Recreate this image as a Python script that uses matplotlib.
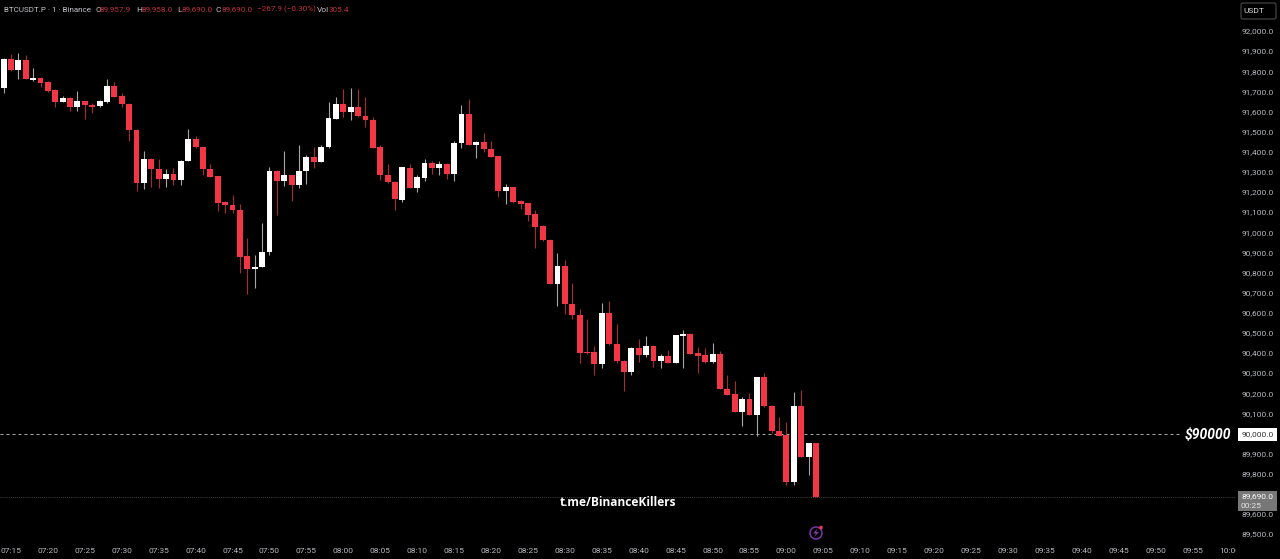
import matplotlib
matplotlib.use('Agg')
from matplotlib import pyplot as plt
from matplotlib.patches import Circle, FancyBboxPatch, Polygon, Rectangle
from matplotlib.transforms import Affine2D, Bbox, IdentityTransform
import numpy as np

plt.rcParams['font.family'] = ['Roboto', 'DejaVu Sans']

# one minute candles, starting 07:14
opens = [91722, 91868, 91811, 91861, 91762, 91773, 91750, 91710, 91654, 91674,
         91629, 91657, 91637, 91631, 91654, 91732, 91682, 91642, 91513, 91248,
         91367, 91321, 91271, 91294, 91265, 91359, 91467, 91427, 91321, 91283,
         91155, 91140, 91117, 90887, 90821, 90831, 90907, 91311, 91260, 91288,
         91240, 91309, 91381, 91354, 91427, 91566, 91642, 91602, 91629, 91583,
         91563, 91429, 91291, 91255, 91167, 91324, 91227, 91276, 91347, 91323,
         91344, 91294, 91447, 91591, 91437, 91452, 91419, 91384, 91212, 91230,
         91159, 91149, 91096, 91036, 90966, 90746, 90837, 90650, 90595, 90408,
         90408, 90350, 90605, 90450, 90367, 90311, 90428, 90395, 90441, 90364,
         90390, 90357, 90491, 90499, 90403, 90393, 90358, 90402, 90228, 90200,
         90113, 90176, 90099, 90284, 90143, 90019, 89996, 89764, 90142, 89888,
         89958]
highs = [91869, 91891, 91894, 91887, 91821, 91778, 91758, 91715, 91682, 91677,
         91705, 91659, 91646, 91662, 91768, 91752, 91699, 91646, 91516, 91410,
         91374, 91367, 91318, 91324, 91364, 91516, 91483, 91430, 91344, 91285,
         91159, 91188, 91145, 90975, 90890, 91053, 91328, 91314, 91407, 91291,
         91437, 91391, 91430, 91440, 91652, 91679, 91718, 91722, 91718, 91675,
         91576, 91440, 91344, 91258, 91331, 91344, 91291, 91371, 91361, 91357,
         91347, 91457, 91636, 91669, 91457, 91496, 91457, 91384, 91245, 91231,
         91165, 91152, 91116, 91039, 90970, 90904, 90867, 90751, 90625, 90576,
         90440, 90655, 90665, 90549, 90370, 90433, 90473, 90489, 90443, 90400,
         90420, 90496, 90519, 90503, 90436, 90430, 90456, 90417, 90297, 90267,
         90185, 90208, 90285, 90304, 90145, 90085, 90062, 90211, 90221, 89959,
         89958]
lows = [91699, 91805, 91765, 91765, 91758, 91725, 91704, 91626, 91652, 91606,
        91606, 91566, 91596, 91629, 91649, 91675, 91626, 91457, 91208, 91222,
        91232, 91225, 91232, 91238, 91241, 91357, 91424, 91288, 91278, 91109,
        91102, 91099, 90801, 90698, 90728, 90831, 90894, 91091, 91235, 91162,
        91225, 91245, 91324, 91354, 91424, 91566, 91576, 91563, 91579, 91526,
        91424, 91265, 91251, 91116, 91155, 91223, 91205, 91258, 91294, 91288,
        91271, 91261, 91424, 91437, 91374, 91404, 91377, 91182, 91145, 91152,
        91122, 91063, 90927, 90963, 90746, 90639, 90599, 90572, 90354, 90400,
        90297, 90330, 90446, 90354, 90218, 90294, 90360, 90387, 90334, 90330,
        90354, 90354, 90330, 90400, 90304, 90357, 90357, 90224, 90195, 90112,
        90042, 90097, 89993, 90138, 90006, 89993, 89751, 89751, 89886, 89797,
        89690]
closes = [91868, 91811, 91861, 91765, 91773, 91748, 91707, 91652, 91674, 91629,
          91659, 91637, 91629, 91659, 91732, 91679, 91641, 91513, 91248, 91367,
          91321, 91271, 91294, 91265, 91361, 91467, 91427, 91319, 91280, 91152,
          91139, 91116, 90884, 90821, 90832, 90909, 91311, 91261, 91288, 91240,
          91311, 91381, 91354, 91430, 91571, 91642, 91602, 91629, 91581, 91561,
          91425, 91289, 91253, 91169, 91328, 91227, 91280, 91347, 91323, 91344,
          91294, 91450, 91591, 91437, 91452, 91417, 91381, 91212, 91230, 91155,
          91145, 91092, 91029, 90966, 90749, 90837, 90648, 90592, 90405, 90405,
          90350, 90605, 90450, 90364, 90311, 90428, 90397, 90441, 90364, 90390,
          90355, 90493, 90499, 90402, 90390, 90358, 90402, 90226, 90196, 90113,
          90176, 90099, 90284, 90142, 90017, 89993, 89764, 90142, 89888, 89959,
          89690]

time_labels = ['07:15', '07:20', '07:25', '07:30', '07:35', '07:40', '07:45', '07:50', '07:55',
               '08:00', '08:05', '08:10', '08:15', '08:20', '08:25', '08:30', '08:35', '08:40',
               '08:45', '08:50', '08:55', '09:00', '09:05', '09:10', '09:15', '09:20', '09:25',
               '09:30', '09:35', '09:40', '09:45', '09:50', '09:55', '10:00']
price_ticks = [92000, 91900, 91800, 91700, 91600, 91500, 91400, 91300, 91200, 91100,
               91000, 90900, 90800, 90700, 90600, 90500, 90400, 90300, 90200, 90100,
               90000, 89900, 89800, 89700, 89600, 89500]
level_price = 90000
last_price = 89690

W, H = 1280, 559
RED = '#f23645'
GREY = '#b8bac0'
HEAD_RED = '#c0303e'

opens, highs, lows, closes = map(np.array, (opens, highs, lows, closes))
idx = np.arange(len(opens))
up = closes >= opens

fig = plt.figure(figsize=(W / 100, H / 100), dpi=100, facecolor='black')
# plot area runs to x=1236 and y=545 in pixels
ax = fig.add_axes([0, 14 / H, 1236 / W, 545 / H], facecolor='black')
ax.set_xlim(-3.6 / 7.385, (1236 - 3.6) / 7.385)
ax.set_ylim(92000 - (545 - 32) * 4.969, 92000 + 32 * 4.969)

# Candles
ax.axhline(level_price, color='#a8a8a8', lw=0.72, dashes=(3, 3), zorder=1)
ax.axhline(last_price, color='#5a5a5a', lw=0.6, ls=(0, (1, 1.5)), zorder=1)
ax.vlines(idx[up], lows[up], highs[up], color='#a6a6a6', lw=0.8, zorder=2)
ax.vlines(idx[~up], lows[~up], highs[~up], color='#a82a36', lw=0.8, zorder=2)
ax.bar(idx[up], (closes - opens)[up], bottom=opens[up], width=0.8, color='white', lw=0, zorder=3)
ax.bar(idx[~up], (closes - opens)[~up], bottom=opens[~up], width=0.8, color=RED, lw=0, zorder=3)

for s in ax.spines.values():
    s.set_visible(False)
ax.set_xticks(np.arange(1, 167, 5))
ax.set_xticklabels(time_labels)
ax.yaxis.tick_right()
ax.set_yticks(price_ticks)
# the tags on the axis cover 90,000.0 and 89,700.0
ax.set_yticklabels(['' if p in (90000, 89700) else f'{p:,.1f}' for p in price_ticks])
ax.tick_params(axis='x', length=0, pad=2, labelsize=6, labelcolor=GREY)
ax.tick_params(axis='y', length=0, pad=4, labelsize=6, labelcolor=GREY)
clip = Bbox([[0, 0], [1236, H]])
for lab in ax.get_xticklabels():
    lab.set_clip_on(True)
    lab.set_clip_box(clip)
for lab in ax.get_yticklabels():
    lab.set_transform(lab.get_transform() + Affine2D().translate(0, 1))


def px_text(x, y, s, **kw):
    kw.setdefault('fontsize', 6)
    kw.setdefault('va', 'center')
    return fig.text(x / W, 1 - y / H, s, **kw)


# Header line
px_text(4, 9.5, 'BTCUSDT.P · 1 · Binance', color='#c4c6cc', fontsize=5.8)
for x, s in [(95, 'O'), (136, 'H'), (177, 'L'), (216, 'C'), (317, 'Vol')]:
    px_text(x, 9.5, s, color='#c4c6cc')
for x, s in [(100, '89,957.9'), (141, '89,958.0'), (181, '89,690.0'), (221, '89,690.0'),
             (257, '−267.9 (−0.30%)'), (329, '305.4')]:
    px_text(x, 9.5, s, color=HEAD_RED, fontsize=5.9)

# Annotations
px_text(1207.5, 435, '$90000', color='white', fontsize=10, fontweight='bold', fontstyle='italic', ha='center',
        bbox=dict(fc='black', ec='none', pad=3))
px_text(618.5, 503, 't.me/BinanceKillers', color='white', fontsize=8.6, fontweight='bold', ha='center',
        family=['Open Sans', 'DejaVu Sans'])

# Price tags on the right axis
idt = IdentityTransform()
fig.add_artist(Rectangle((1238, H - 441), 39, 13, color='white', lw=0, transform=idt, zorder=5))
px_text(1258, 434.5, '90,000.0', color='#333333', ha='center', zorder=6)
fig.add_artist(Rectangle((1238, H - 511), 39, 20, color='#777777', lw=0, transform=idt, zorder=5))
px_text(1258, 496, '89,690.0', color='white', ha='center', zorder=6)
px_text(1251, 505.5, '00:25', color='#e6e6e6', ha='center', zorder=6)

# USDT button
fig.add_artist(FancyBboxPatch((1241, H - 19), 35, 16, boxstyle='round,pad=0,rounding_size=2',
                              fc='black', ec='#4a4a4a', lw=0.8, transform=idt, zorder=5))
px_text(1254, 11, 'USDT', color='#d8d8d8', ha='center', zorder=6)

# Lightning badge under the last candle
fig.add_artist(Circle((816, H - 533), 6, fc='none', ec='#7b35a8', lw=1.1, transform=idt, zorder=5))
fig.add_artist(Polygon([(817.5, H - 528.5), (813, H - 533.5), (815.8, H - 533.5), (814.5, H - 537),
                        (819, H - 532), (816.2, H - 532)], color='#7b35a8', lw=0, transform=idt, zorder=5))
fig.add_artist(Circle((821, H - 527.5), 1.8, fc='#f23645', ec='none', transform=idt, zorder=6))

fig.savefig('out.png', dpi=100, facecolor='black')
